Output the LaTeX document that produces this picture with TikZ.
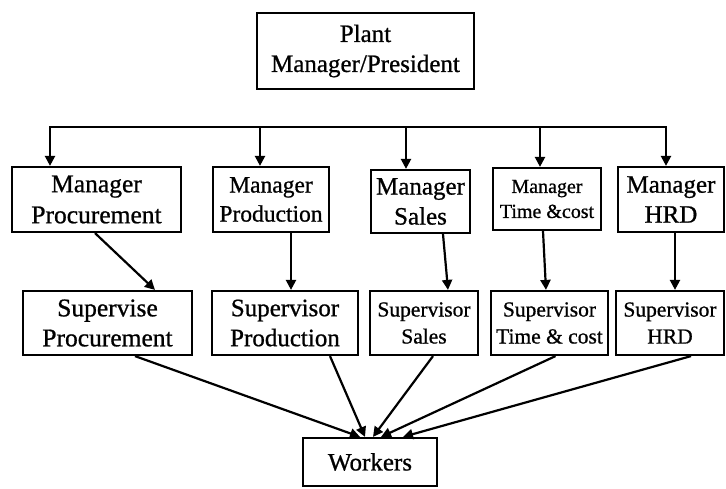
\documentclass[tikz,border=0pt]{standalone}
\usepackage{fontspec}
\setmainfont{Liberation Serif}[FakeBold=0.8]
\usetikzlibrary{arrows.meta,calc}
\begin{document}
\begin{tikzpicture}[x=1pt,y=-1pt,
  box/.style={draw,line width=2.2pt,inner sep=0pt,align=center},
  arr/.style={line width=2.2pt,-{Triangle[length=10pt,width=10pt]}},
  ln/.style={line width=2.2pt}]
\useasboundingbox[fill=white] (0,0) rectangle (726,489);
% top
\node[box,minimum width=217pt,minimum height=76pt,font=\fontsize{25}{30}\selectfont] (plant) at (365.5,51) {Plant\\Manager/President};
% managers
\node[box,minimum width=169pt,minimum height=65pt,font=\fontsize{25.5}{31}\selectfont] (m1) at (96.5,199.5) {Manager\\Procurement};
\node[box,minimum width=116pt,minimum height=65pt,font=\fontsize{23.5}{29}\selectfont] (m2) at (271,199.5) {Manager\\Production};
\node[box,minimum width=99pt,minimum height=63pt,font=\fontsize{25}{30}\selectfont] (m3) at (420.5,201.5) {Manager\\Sales};
\node[box,minimum width=108pt,minimum height=62pt,font=\fontsize{20}{25}\selectfont] (m4) at (547,199) {Manager\\Time \&cost};
\node[box,minimum width=106pt,minimum height=65pt,font=\fontsize{25}{30}\selectfont] (m5) at (671,199.5) {Manager\\HRD};
% supervisors
\node[box,minimum width=169pt,minimum height=64pt,font=\fontsize{25.5}{30}\selectfont] (s1) at (107.5,323) {Supervise\\Procurement};
\node[box,minimum width=146pt,minimum height=64pt,font=\fontsize{25}{30}\selectfont] (s2) at (285,323) {Supervisor\\Production};
\node[box,minimum width=108pt,minimum height=64pt,font=\fontsize{21.5}{27}\selectfont] (s3) at (424,323) {Supervisor\\Sales};
\node[box,minimum width=117pt,minimum height=64pt,font=\fontsize{21.5}{27}\selectfont] (s4) at (549.5,323) {Supervisor\\Time \& cost};
\node[box,minimum width=108pt,minimum height=64pt,font=\fontsize{21.5}{27}\selectfont] (s5) at (670,323) {Supervisor\\HRD};
% workers
\node[box,minimum width=134pt,minimum height=48pt,font=\fontsize{25}{30}\selectfont] (w) at (370,462) {Workers};
% bus
\coordinate (b1) at (50,127);
\coordinate (b2) at (260,127);
\coordinate (b3) at (406,127);
\coordinate (b4) at (540,127);
\coordinate (b5) at (666,127);
\draw[ln,line cap=rect] (b1) -- (b5);
\draw[arr] (b1) -- (b1 |- m1.north);
\draw[arr] (b2) -- (b2 |- m2.north);
\draw[arr] (b3) -- (b3 |- m3.north);
\draw[arr] (b4) -- (b4 |- m4.north);
\draw[arr] (b5) -- (b5 |- m5.north);
% managers to supervisors
\draw[arr] ([xshift=-1.5pt]m1.south) -- ([xshift=47.5pt]s1.north);
\draw[arr] ([xshift=20pt]m2.south) -- ([xshift=6pt]s2.north);
\draw[arr] ([xshift=22.5pt]m3.south) -- ([xshift=24pt]s3.north);
\draw[arr] ([xshift=-4pt]m4.south) -- ([xshift=-3.5pt]s4.north);
\draw[arr] ([xshift=4pt]m5.south) -- ([xshift=5pt]s5.north);
% supervisors to workers
\draw[arr] ([xshift=27.5pt]s1.south) -- ([xshift=-10pt]w.north);
\draw[arr] ([xshift=45pt]s2.south) -- ([xshift=-5pt]w.north);
\draw[arr] ([xshift=9pt]s3.south) -- ([xshift=3pt]w.north);
\draw[arr] ([xshift=6pt]s4.south) -- ([xshift=11pt]w.north);
\draw[arr] ([xshift=21pt]s5.south) -- ([xshift=33pt]w.north);
\end{tikzpicture}
\end{document}
